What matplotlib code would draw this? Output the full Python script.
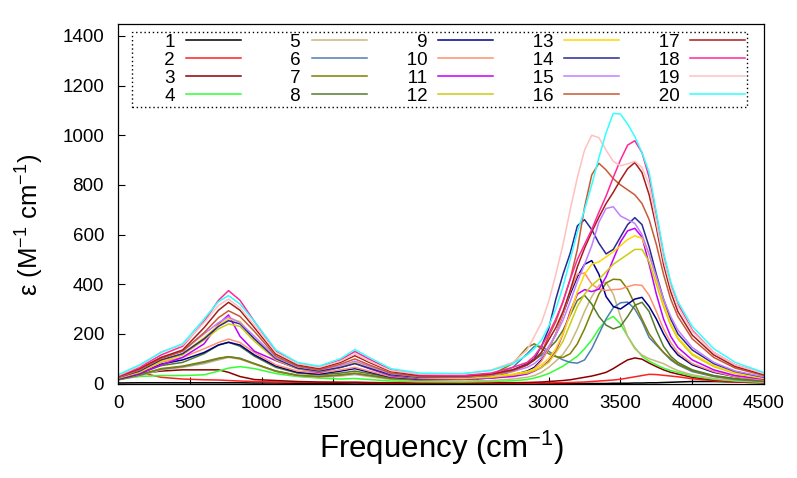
import matplotlib
matplotlib.use("Agg")
import matplotlib.pyplot as plt

plt.rcParams['font.family'] = ['Liberation Sans', 'DejaVu Sans']
plt.rcParams['mathtext.fontset'] = 'custom'
plt.rcParams['mathtext.rm'] = 'Liberation Sans'
plt.rcParams['mathtext.it'] = 'Liberation Sans:italic'
plt.rcParams['mathtext.default'] = 'regular'

# frequency grid (cm^-1)
freq = [0, 150, 300, 450, 600, 700, 770, 850, 950, 1100, 1250, 1400, 1550, 1650, 1750, 1900, 2100, 2400, 2600, 2750,
        2850, 2900, 2950, 3000, 3050, 3100, 3150, 3200, 3250, 3300, 3350, 3400, 3450, 3500, 3550, 3600, 3650, 3700,
        3750, 3800, 3850, 3900, 4000, 4150, 4300, 4500]

eps_1 = [2, 3, 3, 3, 3, 3, 3, 3, 2, 2, 1, 1, 1, 2, 1, 1, 0, 0, 0, 0,
         0, 0, 0, 0, 0, 0, 0, 0, 0, 0, 0, 0, 1, 1, 1, 2, 2, 3, 3, 4, 5, 6, 8, 8, 6, 3]
eps_2 = [32, 45, 25, 18, 15, 14, 12, 10, 8, 6, 5, 4, 4, 4, 3, 2, 1, 1, 1, 1,
         1, 1, 2, 2, 3, 3, 4, 5, 6, 8, 10, 12, 14, 17, 22, 27, 32, 37, 36, 33, 30, 27, 19, 11, 6, 3]
eps_3 = [25, 40, 50, 55, 55, 55, 45, 28, 16, 12, 8, 6, 5, 5, 4, 3, 2, 2, 3, 3,
         4, 5, 6, 8, 10, 12, 15, 20, 25, 30, 37, 45, 60, 78, 95, 103, 98, 82, 68, 55, 45, 38, 25, 14, 8, 4]
eps_4 = [18, 28, 32, 32, 35, 50, 62, 68, 60, 40, 28, 22, 18, 20, 16, 10, 7, 6, 8, 11,
         16, 22, 30, 40, 55, 70, 90, 110, 140, 175, 220, 255, 270, 240, 190, 145, 110, 90, 75, 62, 52, 45, 30, 17, 10, 5]
eps_5 = [14, 30, 55, 65, 80, 95, 105, 98, 78, 48, 30, 25, 30, 36, 28, 16, 10, 10, 12, 18,
         25, 32, 45, 65, 90, 118, 160, 220, 290, 350, 395, 408, 360, 270, 190, 140, 115, 100, 90, 80, 65, 52, 35, 20, 12, 6]
eps_6 = [15, 33, 58, 68, 85, 100, 108, 102, 80, 50, 33, 28, 34, 40, 32, 20, 15, 17, 30, 65,
         120, 150, 150, 130, 110, 95, 85, 82, 95, 140, 200, 260, 305, 325, 328, 300, 250, 185, 155, 125, 95, 75, 48, 28, 16, 8]
eps_7 = [15, 35, 60, 70, 88, 102, 108, 100, 80, 50, 33, 28, 35, 42, 33, 20, 15, 18, 35, 80,
         145, 160, 140, 120, 108, 105, 120, 160, 220, 290, 360, 405, 420, 418, 380, 320, 260, 200, 160, 125, 100, 78, 52, 30, 18, 9]
eps_8 = [18, 40, 72, 85, 120, 155, 166, 150, 110, 65, 42, 35, 42, 50, 40, 24, 17, 17, 22, 50,
         75, 95, 115, 140, 170, 215, 275, 335, 355, 320, 270, 235, 220, 230, 270, 315, 327, 290, 215, 150, 110, 85, 55, 32, 20, 10]
eps_9 = [18, 40, 78, 95, 125, 155, 166, 155, 115, 70, 45, 38, 50, 60, 46, 26, 18, 17, 22, 35,
         50, 65, 95, 140, 200, 280, 360, 430, 480, 495, 440, 350, 310, 300, 320, 340, 347, 310, 260, 200, 150, 115, 75, 45, 28, 15]
eps_10 = [20, 45, 85, 105, 140, 165, 179, 165, 125, 75, 50, 42, 55, 65, 50, 28, 20, 18, 22, 32,
          45, 60, 90, 140, 200, 280, 370, 440, 445, 400, 380, 375, 378, 380, 390, 398, 395, 355, 290, 220, 165, 125, 80, 48, 28, 14]
eps_11 = [20, 40, 75, 105, 160, 240, 276, 190, 130, 92, 60, 45, 65, 82, 60, 32, 20, 18, 22, 28,
          38, 50, 65, 90, 130, 200, 290, 360, 378, 370, 380, 430, 500, 570, 615, 625, 590, 480, 360, 260, 190, 145, 95, 55, 32, 17]
eps_12 = [22, 45, 88, 115, 175, 220, 240, 230, 170, 95, 60, 48, 65, 84, 63, 35, 23, 20, 25, 35,
          42, 52, 65, 85, 125, 170, 240, 310, 360, 395, 420, 450, 480, 500, 520, 540, 540, 490, 400, 310, 235, 180, 115, 68, 40, 20]
eps_13 = [22, 48, 90, 120, 185, 235, 260, 250, 180, 100, 62, 50, 68, 88, 66, 37, 24, 22, 28, 38,
          48, 58, 75, 100, 140, 200, 280, 370, 440, 480, 490, 510, 530, 555, 580, 595, 585, 520, 420, 320, 240, 185, 120, 72, 42, 22]
eps_14 = [24, 50, 95, 120, 180, 230, 253, 240, 180, 100, 62, 50, 65, 80, 62, 35, 25, 25, 33, 55,
          80, 100, 150, 220, 340, 440, 525, 635, 660, 620, 565, 522, 540, 590, 640, 668, 640, 550, 440, 340, 260, 200, 135, 80, 48, 25]
eps_15 = [25, 55, 105, 130, 200, 245, 268, 245, 190, 105, 68, 55, 72, 90, 70, 40, 28, 26, 33, 48,
          65, 80, 105, 150, 195, 255, 330, 410, 480, 555, 650, 705, 712, 675, 660, 645, 600, 520, 430, 340, 270, 215, 145, 85, 50, 27]
eps_16 = [25, 55, 100, 130, 205, 265, 293, 270, 210, 110, 70, 55, 78, 99, 75, 42, 28, 27, 35, 52,
          75, 95, 125, 190, 250, 330, 420, 540, 710, 840, 887, 860, 825, 800, 780, 760, 725, 660, 560, 440, 340, 270, 180, 105, 62, 32]
eps_17 = [28, 60, 105, 135, 225, 295, 327, 295, 225, 118, 75, 60, 85, 112, 85, 48, 32, 30, 38, 55,
          75, 95, 125, 175, 225, 290, 375, 470, 545, 610, 670, 725, 770, 820, 865, 890, 850, 760, 630, 480, 370, 290, 195, 115, 68, 36]
eps_18 = [30, 65, 115, 150, 250, 335, 374, 335, 250, 130, 82, 66, 95, 129, 98, 55, 35, 32, 42, 65,
          85, 110, 150, 200, 260, 330, 420, 500, 560, 620, 690, 755, 830, 900, 960, 978, 930, 830, 680, 520, 400, 320, 215, 125, 75, 40]
eps_19 = [32, 70, 128, 155, 245, 315, 340, 305, 235, 125, 80, 65, 90, 119, 90, 52, 38, 38, 55, 85,
          135, 190, 245, 330, 440, 560, 700, 830, 940, 1000, 990, 940, 895, 877, 885, 895, 870, 800, 650, 500, 390, 310, 210, 125, 75, 40]
eps_20 = [35, 75, 125, 160, 260, 330, 354, 320, 250, 135, 85, 70, 100, 137, 105, 60, 42, 40, 52, 80,
          115, 140, 175, 230, 300, 390, 500, 610, 700, 800, 910, 1010, 1088, 1085, 1045, 995, 930, 850, 690, 530, 410, 330, 230, 140, 85, 44]

series = [eps_1, eps_2, eps_3, eps_4, eps_5, eps_6, eps_7, eps_8, eps_9, eps_10,
          eps_11, eps_12, eps_13, eps_14, eps_15, eps_16, eps_17, eps_18, eps_19, eps_20]
labels = [str(i) for i in range(1, 21)]
colors = ['#000000', '#ff2020', '#8b0000', '#33ff33', '#c8b878', '#4f7fae', '#7f7f00', '#567a2c',
          '#00008b', '#ff9070', '#c000ff', '#cccc10', '#ffd700', '#2a2a96', '#c080ff', '#c85a34',
          '#a81c1c', '#ff2898', '#ffc0c0', '#33ffff']

fig = plt.figure(figsize=(7.97, 4.78), dpi=100)
ax = fig.add_axes([118 / 797, (478 - 383.5) / 478, 646 / 797, 360 / 478])

for y, lab, c in zip(series, labels, colors):
    disp = '\u2007' * (4 - len(lab)) + lab
    ax.plot(freq, y, color=c, lw=1.1, label=disp)

ax.set_xlim(0, 4500)
ax.set_ylim(0, 1450)
ax.set_xticks(range(0, 4501, 500))
ax.set_yticks(range(0, 1401, 200))
ax.tick_params(direction='in', length=5, width=0.8, labelsize=13.5, colors='black')
ax.tick_params(axis='y', pad=10)
ax.tick_params(axis='x', pad=8)
for s in ax.spines.values():
    s.set_linewidth(0.9)
    s.set_color('black')

ax.set_xlabel('Frequency (cm$^{-1}$)', fontsize=22.5, labelpad=12)
ax.set_ylabel('ε (M$^{-1}$ cm$^{-1}$)', fontsize=18.5)
ax.yaxis.set_label_coords(-0.111, 0.44)

leg = ax.legend(ncol=5, markerfirst=False, loc='upper left',
                bbox_to_anchor=(0.021, 0.977, 0.953, 0.0), mode='expand',
                borderaxespad=0, fontsize=13.5, labelspacing=0.05, handlelength=2.93,
                handletextpad=0.59, borderpad=0.1, fancybox=False, framealpha=1,
                edgecolor='black')
leg.get_frame().set_linestyle((0, (1, 2)))
leg.get_frame().set_linewidth(1.0)

fig.savefig('out.png', dpi=100)
